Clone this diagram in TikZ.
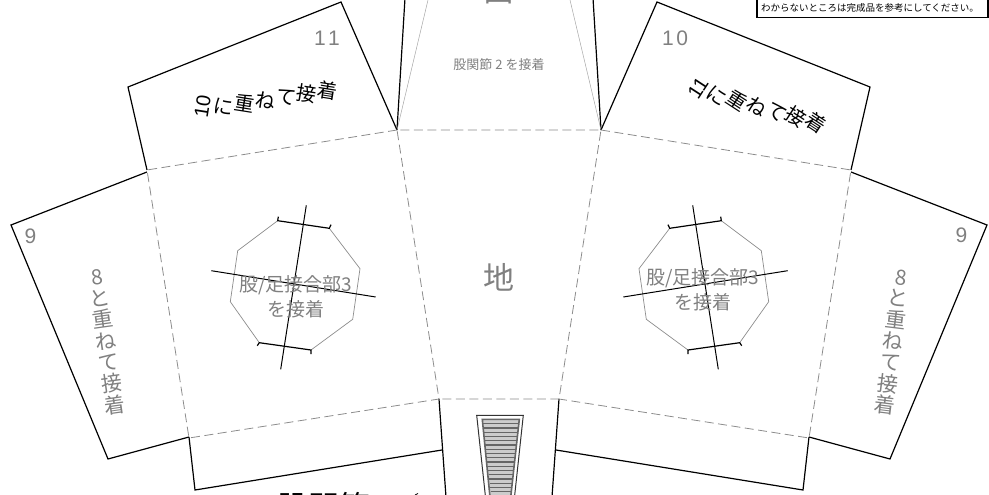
\documentclass[tikz,border=0pt]{standalone}
\usepackage{fontspec}
\usepackage{graphicx}
\usepackage{xcolor}
\setmainfont{Noto Sans CJK JP}
\newfontfamily\latinfont{Liberation Sans}
\definecolor{labelgray}{HTML}{808080}
\definecolor{foldgray}{HTML}{8C8C8C}
\definecolor{stripegray}{HTML}{CCCCCC}
\definecolor{framegray}{HTML}{666666}
\newcommand{\tiltL}[1]{\makebox[21pt][c]{\rotatebox[origin=c]{-18}{#1}}}
\newcommand{\tiltR}[1]{\makebox[20.5pt][c]{\rotatebox[origin=c]{-18}{#1}}}
\tikzset{
  cutline/.style={draw=black, line width=1.2pt, line join=miter},
  foldline/.style={draw=foldgray, line width=0.8pt, dash pattern=on 9pt off 4.5pt},
  guideline/.style={draw=foldgray, line width=0.7pt},
  greytext/.style={text=labelgray, inner sep=0pt, align=center},
  blacktext/.style={text=black, inner sep=0pt, align=center}
}
\begin{document}
\begin{tikzpicture}[x=1pt,y=-1pt]
\useasboundingbox (0,0) rectangle (989,495);
\clip (0,0) rectangle (989,495);

% flaps, left
  \draw[cutline] (147,170) -- (128,87) -- (341,2) -- (397,130);
  \draw[cutline] (147,172) -- (11,225) -- (108,459) -- (189,437);
  \draw[cutline] (189,437) -- (195,490) -- (442,450);

% flaps, right
  \draw[cutline] (851,170) -- (870,87) -- (657,2) -- (601,130);
  \draw[cutline] (851,172) -- (987,225) -- (890,459) -- (809,437);
  \draw[cutline] (809,437) -- (803,490) -- (556,450);

% centre
  \draw[cutline] (405,-2) -- (397,130);
  \draw[cutline] (593,-2) -- (601,130);
  \draw[cutline] (439,399) -- (446,497);
  \draw[cutline] (559,399) -- (552,497);
  \draw[guideline, line width=0.5pt, draw=black!35] (397,130) -- (428,0);
  \draw[guideline, line width=0.5pt, draw=black!35] (601,130) -- (570,0);

% fold lines
  \draw[foldline] (397,130) -- (147,170) -- (189,438) -- (439,399) -- (397,130) -- (601,130) -- (559,399) -- (439,399);
  \draw[foldline] (601,130) -- (851,170) -- (809,438) -- (559,399);

% slot
  \draw[line width=1pt, draw=black!80] (485.5,497) -- (476.7,415.3) -- (523.3,415.3) -- (514.5,497);
  \fill[stripegray] (482.3,419.3) -- (519.3,419.3) -- (510.7,497) -- (490,497) -- cycle;
  \foreach \i in {0,...,18} {
    \draw[draw=framegray, line width=1.1pt] (482.5+0.113*4.25*\i,419.5+4.25*\i) -- (519.1-0.113*4.25*\i,419.5+4.25*\i);
  }
  \draw[draw=framegray, line width=1.6pt] (490,497) -- (482.3,419.3) -- (519.3,419.3) -- (510.7,497);

% octagon left
  \draw[guideline] (277.7,220.7) -- (237.7,250.7) -- (230.3,301.7) -- (259.3,342.7);
  \draw[guideline] (311,350) -- (352.7,319.3) -- (360,268.7) -- (329.3,228.3);
  \draw[cutline] (278.3,216.7) -- (277.7,220.7) -- (329.3,228.3) -- (331,224.7);
  \draw[cutline] (257.3,345.7) -- (259.3,342.7) -- (311,350) -- (311,354);
  \draw[line width=1pt] (306.3,205.3) -- (280.7,369.3);
  \draw[line width=1pt] (211.3,270.7) -- (375.7,297);

% octagon right
  \draw[guideline] (721.3,220.7) -- (761.3,250.7) -- (768.7,301.7) -- (739.7,342.7);
  \draw[guideline] (688,350) -- (646.3,319.3) -- (639,268.7) -- (669.7,228.3);
  \draw[cutline] (720.7,216.7) -- (721.3,220.7) -- (669.7,228.3) -- (668,224.7);
  \draw[cutline] (741.7,345.7) -- (739.7,342.7) -- (688,350) -- (688,354);
  \draw[line width=1pt] (692.7,205.3) -- (718.3,369.3);
  \draw[line width=1pt] (787.7,270.7) -- (623.3,297);

% notice
  \draw[line width=1.2pt, fill=white] (757,-5) rectangle (988,17.5);
  \node[blacktext, font=\fontsize{9.5}{10}\selectfont] (notice) at (870,8) {わからないところは完成品を参考にしてください。};

% labels
  \node[greytext, font=\fontsize{31}{33}\selectfont] (topface) at (499,-9) {面};
  \node[greytext, font=\fontsize{13}{15}\selectfont] (jointtwo) at (499,65) {股関節 2 を接着};
  \node[greytext, font=\fontsize{31}{33}\selectfont] (ground) at (499,277) {地};
  \node[greytext, font=\latinfont\fontsize{21}{22}\selectfont] (numleft) at (327,38) {1\hspace{2.5pt}1};
  \node[greytext, font=\latinfont\fontsize{21}{22}\selectfont] (numright) at (675,38) {1\hspace{2.5pt}0};
  \node[greytext, font=\latinfont\fontsize{21}{22}\selectfont] (nineleft) at (30.5,236) {9};
  \node[greytext, font=\latinfont\fontsize{21}{22}\selectfont] (nineright) at (961.5,235) {9};
  \node[blacktext, font=\fontsize{20}{21}\selectfont, rotate=9] (gluetop) at (265,98) {\tiltL{\rotatebox{90}{\latinfont 10}}\tiltL{に}\tiltL{重}\tiltL{ね}\tiltL{て}\tiltL{接}\tiltL{着}};
  \node[blacktext, font=\fontsize{20}{21}\selectfont, rotate=-15] (gluetopr) at (757,105) {\tiltR{\rotatebox{90}{\latinfont 11}}\tiltR{に}\tiltR{重}\tiltR{ね}\tiltR{て}\tiltR{接}\tiltR{着}};
  \node[greytext, font=\fontsize{21}{21.5}\selectfont, rotate=8] (glueside) at (106,342) {8\\と\\重\\ね\\て\\接\\着};
  \node[greytext, font=\fontsize{21}{21.5}\selectfont, rotate=-7] (gluesider) at (893,342) {8\\と\\重\\ね\\て\\接\\着};
  \node[greytext, font=\fontsize{19}{25}\selectfont] (hipleft) at (296,297) {股/足接合部3\\を接着};
  \node[greytext, font=\fontsize{19}{25}\selectfont] (hipright) at (703,290) {股/足接合部3\\を接着};
  \node[blacktext, font=\fontsize{31}{33}\selectfont] (jointtitle) at (324,507) {股関節};
  \draw[line width=0.8pt] (415,495) -- (418,493.5);

\end{tikzpicture}
\end{document}
